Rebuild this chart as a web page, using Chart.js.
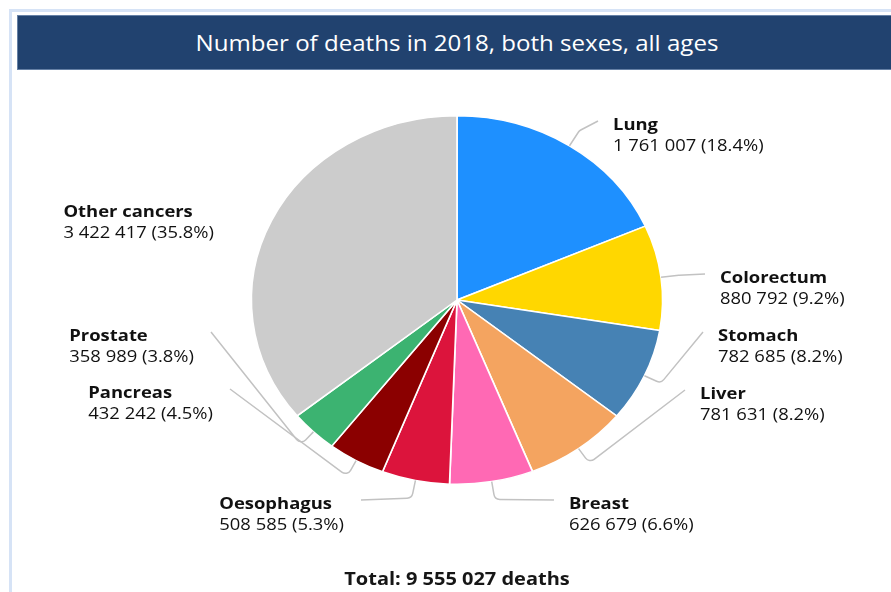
<!DOCTYPE html>
<html>
<head>
<meta charset="utf-8">
<script src="https://cdn.jsdelivr.net/npm/chart.js@4.4.0/dist/chart.umd.min.js"></script>
<style>
  body { margin: 0; width: 891px; height: 592px; overflow: hidden; background: #fff; position: relative; font-family: "Open Sans", sans-serif; }
  .frame { position: absolute; left: 9px; top: 9px; width: 900px; height: 600px; border-left: 3px solid #d6e3f6; border-top: 3px solid #d6e3f6; }
  .banner { position: absolute; left: 17px; top: 15px; width: 890px; height: 53px; background: #21426f; border: 1px solid #6580a5; }
  .title { position: absolute; left: 0; width: 914px; top: 15px; height: 56px; line-height: 56px; text-align: center; color: #fff; font-size: 21.7px; transform: scaleX(1.11); transform-origin: 457px 50%; }
  .total { position: absolute; left: 0; width: 914px; top: 566px; height: 24px; line-height: 24px; text-align: center; color: #161616; font-size: 18px; font-weight: bold; transform: scaleX(1.11); transform-origin: 457px 50%; }
  canvas { position: absolute; left: 0; top: 0; }
</style>
</head>
<body>
<div class="frame"></div>
<div class="banner"></div>
<div class="title">Number of deaths in 2018, both sexes, all ages</div>
<canvas id="pie" width="891" height="592"></canvas>
<div class="total" id="total"></div>
<script>
const categories = ["Lung", "Colorectum", "Stomach", "Liver", "Breast", "Oesophagus", "Pancreas", "Prostate", "Other cancers"];
const deaths = [1761007, 880792, 782685, 781631, 626679, 508585, 432242, 358989, 3422417];
const sliceColors = ["#1e90ff", "#ffd700", "#4682b4", "#f4a460", "#ff69b4", "#dc143c", "#8b0000", "#3cb371", "#cccccc"];

// where each label's connector ends (layout only)
const labelAnchors = [[598, 121], [705, 274], [703, 332], [685, 390], [554, 500], [361, 500], [230, 389], [211, 332], [231, 208]];
const showConnector = [true, true, true, true, true, true, true, true, false];

const SX = 1.116; // the pie is a bit wider than tall
const total = deaths.reduce((a, b) => a + b, 0);

function fmt(n) {
  return String(n).replace(/\B(?=(\d{3})+(?!\d))/g, " ");
}

document.getElementById("total").textContent = "Total: " + fmt(total) + " deaths";

function stretchedText(ctx, text, x, y) {
  ctx.save();
  ctx.translate(x, y);
  ctx.scale(SX, 1);
  ctx.fillText(text, 0, 0);
  ctx.restore();
}

const ellipsePlugin = {
  id: "ellipse",
  beforeDatasetsDraw(chart) {
    const arc = chart.getDatasetMeta(0).data[0];
    const ctx = chart.ctx;
    ctx.save();
    ctx.translate(arc.x, arc.y);
    ctx.scale(SX, 1);
    ctx.translate(-arc.x, -arc.y);
  },
  afterDatasetsDraw(chart) {
    chart.ctx.restore();
  }
};

const labelPlugin = {
  id: "pieLabels",
  afterDraw(chart) {
    const ctx = chart.ctx;
    const arcs = chart.getDatasetMeta(0).data;
    arcs.forEach(function (arc, i) {
      const mid = (arc.startAngle + arc.endAngle) / 2;
      const rx = arc.outerRadius * SX;
      const ry = arc.outerRadius;
      const c = Math.cos(mid), s = Math.sin(mid);
      const p0 = [arc.x + rx * c, arc.y + ry * s];
      const p1 = [arc.x + (rx + 18) * c, arc.y + (ry + 18) * s];
      const a = labelAnchors[i];

      if (showConnector[i]) {
        ctx.save();
        ctx.strokeStyle = "#c2c2c2";
        ctx.lineWidth = 1.5;
        ctx.beginPath();
        ctx.moveTo(p0[0], p0[1]);
        ctx.arcTo(p1[0], p1[1], a[0], a[1], 6);
        ctx.lineTo(a[0], a[1]);
        ctx.stroke();
        ctx.restore();
      }

      const name = categories[i];
      const value = fmt(deaths[i]) + " (" + (deaths[i] / total * 100).toFixed(1) + "%)";
      ctx.save();
      ctx.fillStyle = "#111111";
      ctx.textBaseline = "middle";
      ctx.font = "bold 16.5px 'Open Sans'";
      const w1 = ctx.measureText(name).width * SX;
      ctx.font = "16.5px 'Open Sans'";
      const w2 = ctx.measureText(value).width * SX;
      let left;
      if (a[0] > arc.x) {
        left = a[0] + 15;
      } else {
        left = a[0] - 17 - Math.max(w1, w2);
      }
      ctx.font = "bold 16.5px 'Open Sans'";
      stretchedText(ctx, name, left, a[1] + 4);
      ctx.font = "16.5px 'Open Sans'";
      stretchedText(ctx, value, left, a[1] + 25);
      ctx.restore();
    });
  }
};

new Chart(document.getElementById("pie"), {
  type: "pie",
  data: {
    labels: categories,
    datasets: [{
      data: deaths,
      backgroundColor: sliceColors,
      borderColor: "#ffffff",
      borderWidth: 1.5
    }]
  },
  options: {
    responsive: false,
    devicePixelRatio: 1,
    animation: false,
    layout: { padding: { top: 115, bottom: 107, left: 250, right: 227 } },
    plugins: {
      legend: { display: false },
      tooltip: { enabled: false }
    }
  },
  plugins: [ellipsePlugin, labelPlugin]
});
</script>
</body>
</html>
